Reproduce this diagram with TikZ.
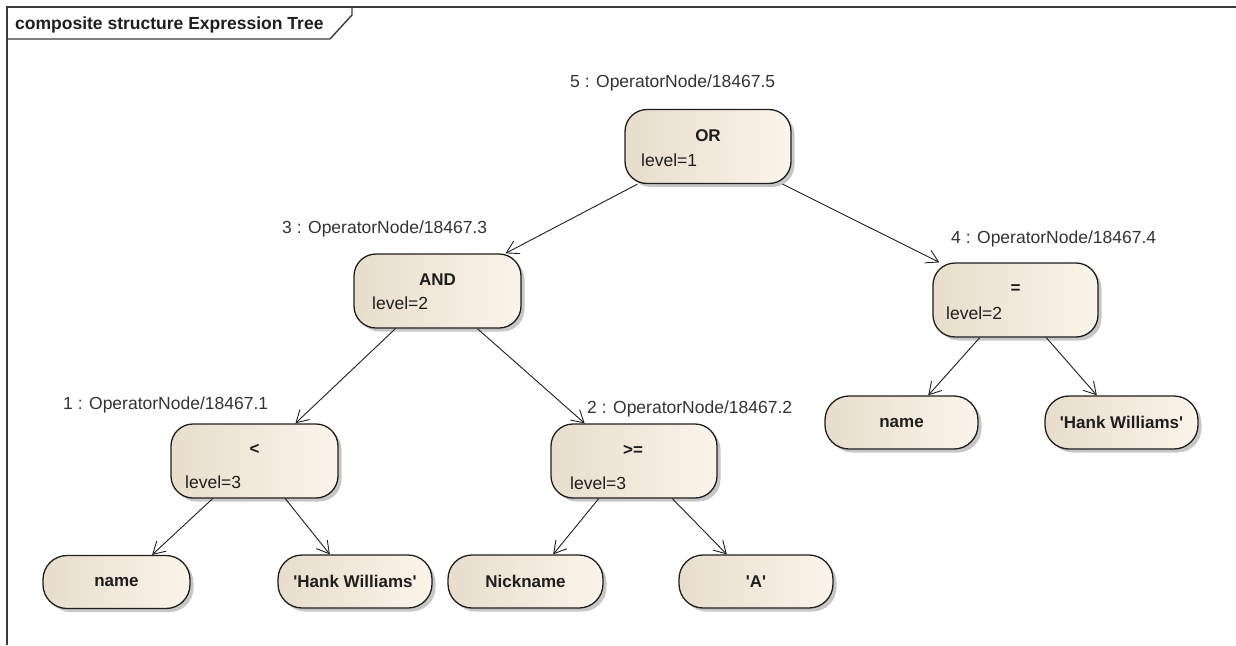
\documentclass[tikz,border=0pt]{standalone}
\usepackage{fontspec}
\setmainfont{Liberation Sans}
\usetikzlibrary{calc,arrows.meta,shadows}
\definecolor{boxL}{HTML}{E8DDCC}
\definecolor{boxR}{HTML}{FBF4EA}
\definecolor{ink}{HTML}{1E1E1E}
\definecolor{labc}{HTML}{333333}
\definecolor{framec}{HTML}{3A3A3A}
\newcommand{\sq}{\textquotesingle}
\begin{document}
\begin{tikzpicture}[x=1pt,y=-1pt,
  basebox/.style={draw=ink, line width=1.3pt, inner sep=0pt,
    left color=boxL, right color=boxR,
    drop shadow={shadow xshift=3.5pt, shadow yshift=-3.5pt, opacity=0.4, fill=black!55}},
  opbox/.style={basebox, rounded corners=22pt, minimum height=74pt},
  leafbox/.style={basebox, rounded corners=24pt, minimum height=53pt,
    font=\fontsize{17}{20}\selectfont\bfseries, text=ink},
  optext/.style={anchor=base, inner sep=0pt, font=\fontsize{17}{20}\selectfont\bfseries, text=ink},
  lvltext/.style={anchor=base west, inner sep=0pt, font=\fontsize{17.5}{20}\selectfont, text=ink},
  objlabel/.style={anchor=base west, inner sep=0pt, font=\fontsize{17.5}{20}\selectfont, text=labc},
  edge/.style={draw=ink, line width=0.9pt, -{Straight Barb[length=12pt,width=14pt,line width=0.9pt]}},
  framel/.style={draw=framec, line width=1.4pt}
]
\useasboundingbox (0,0) rectangle (1236,645);

% frame
\draw[framel] (7,645) -- (7,7) -- (1236,7);
\draw[framel] (7,39) -- (330,39) -- (352,15) -- (352,7);
\node[anchor=base west, inner sep=0pt, font=\fontsize{17.5}{20}\selectfont\bfseries, text=ink] (title) at (15,29.5) {composite structure Expression Tree};

% operator boxes
\node[opbox, minimum width=166pt] (OR)  at (708,146.5) {};
\node[opbox, minimum width=167pt] (AND) at (437.5,291) {};
\node[opbox, minimum width=165pt] (EQ)  at (1015.5,300) {};
\node[opbox, minimum width=167pt] (LT)  at (254.5,461) {};
\node[opbox, minimum width=166pt] (GE)  at (634,461) {};

% operator texts
\node[optext] (ORop)  at (708,141) {OR};
\node[lvltext] (ORlv) at (641,166.5) {level=1};
\node[optext] (ANDop) at (437.5,285) {AND};
\node[lvltext] (ANDlv) at (372,309.5) {level=2};
\node[optext] (EQop)  at (1015.5,293) {=};
\node[lvltext] (EQlv) at (946,319.5) {level=2};
\node[optext] (LTop)  at (254.5,454) {<};
\node[lvltext] (LTlv) at (185,488.5) {level=3};
\node[optext] (GEop)  at (633,455) {>=};
\node[lvltext] (GElv) at (570,489.5) {level=3};

% object labels
\node[objlabel] (l5) at (570,87.5) {5 : OperatorNode/18467.5};
\node[objlabel] (l3) at (282,233.5) {3 : OperatorNode/18467.3};
\node[objlabel] (l4) at (951,243.5) {4 : OperatorNode/18467.4};
\node[objlabel] (l1) at (63,409.5) {1 : OperatorNode/18467.1};
\node[objlabel] (l2) at (587,413.5) {2 : OperatorNode/18467.2};

% leaves
\node[leafbox, minimum width=147pt] (name1) at (116.5,582) {name};
\node[leafbox, minimum width=154pt] (hank1) at (355,581.5) {\sq Hank Williams\sq};
\node[leafbox, minimum width=155pt] (nick)  at (525.5,581.5) {Nickname};
\node[leafbox, minimum width=154pt] (lita)  at (756,581.5) {\sq A\sq};
\node[leafbox, minimum width=153pt] (name2) at (901.5,422.5) {name};
\node[leafbox, minimum width=153pt] (hank2) at (1121.5,422.5) {\sq Hank Williams\sq};

% edges
\draw[edge] ($(OR.south west)!0.078!(OR.south east)$) -- ($(AND.north west)!0.904!(AND.north east)$);
\draw[edge] ($(OR.south west)!0.946!(OR.south east)$) -- ($(EQ.north west)!0.042!(EQ.north east)$);
\draw[edge] ($(AND.south west)!0.25!(AND.south east)$) -- ($(LT.north west)!0.743!(LT.north east)$);
\draw[edge] ($(AND.south west)!0.737!(AND.south east)$) -- ($(GE.north west)!0.205!(GE.north east)$);
\draw[edge] ($(EQ.south west)!0.285!(EQ.south east)$) -- ($(name2.north west)!0.673!(name2.north east)$);
\draw[edge] ($(EQ.south west)!0.685!(EQ.south east)$) -- ($(hank2.north west)!0.34!(hank2.north east)$);
\draw[edge] ($(LT.south west)!0.251!(LT.south east)$) -- ($(name1.north west)!0.74!(name1.north east)$);
\draw[edge] ($(LT.south west)!0.683!(LT.south east)$) -- ($(hank1.north west)!0.338!(hank1.north east)$);
\draw[edge] ($(GE.south west)!0.289!(GE.south east)$) -- ($(nick.north west)!0.677!(nick.north east)$);
\draw[edge] ($(GE.south west)!0.729!(GE.south east)$) -- ($(lita.north west)!0.312!(lita.north east)$);
\end{tikzpicture}
\end{document}
